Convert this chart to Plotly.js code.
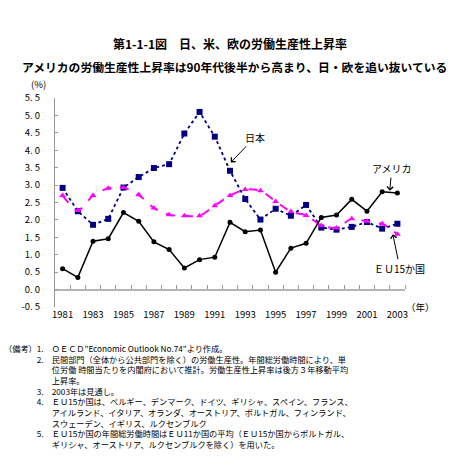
<!DOCTYPE html>
<html>
<head>
<meta charset="utf-8">
<script src="https://cdn.plot.ly/plotly-3.0.1.min.js"></script>
<style>html,body{margin:0;padding:0;background:#fff;overflow:hidden;}#chart{width:459px;height:458px;}</style>
</head>
<body>
<div id="chart"></div>
<script>
// ---- data ----
const years = [1981,1982,1983,1984,1985,1986,1987,1988,1989,1990,1991,1992,1993,1994,1995,1996,1997,1998,1999,2000,2001,2002,2003];
const japan = [2.92,2.25,1.86,2.03,2.93,3.23,3.49,3.60,4.48,5.10,4.39,3.41,2.60,2.01,2.32,2.12,2.43,1.78,1.72,1.80,1.94,1.75,1.89];
const usa   = [0.60,0.35,1.39,1.46,2.21,1.96,1.37,1.15,0.62,0.86,0.93,1.93,1.66,1.71,0.50,1.19,1.33,2.07,2.14,2.59,2.25,2.81,2.77];
const eu15  = [2.70,2.27,2.70,2.91,2.93,2.72,2.34,2.15,2.12,2.12,2.41,2.70,2.87,2.84,2.53,2.24,2.13,1.84,1.77,2.03,1.96,1.89,1.59];
const xTickYears = [1981,1983,1985,1987,1989,1991,1993,1995,1997,1999,2001,2003];
const yTickValues = [-0.5,0,0.5,1,1.5,2,2.5,3,3.5,4,4.5,5,5.5];
const yTickLabels = ['-0. 5','0. 0','0. 5','1. 0','1. 5','2. 0','2. 5','3. 0','3. 5','4. 0','4. 5','5. 0','5. 5'];
const seriesNames = ['日本','アメリカ','ＥＵ15か国'];
const titleText = '第1-1-1図　日、米、欧の労働生産性上昇率';
const subtitleText = 'アメリカの労働生産性上昇率は90年代後半から高まり、日・欧を追い抜いている';
const yUnit = '(%)';
const xUnit = '（年）';
const noteHead = '（備考）';
const noteNumbers = ['1.','2.','','','3.','4.','','','5.',''];
const noteTexts = [
  'ＯＥＣＤ"Economic Outlook No.74"より作成。',
  '民間部門（全体から公共部門を除く）の労働生産性。年間総労働時間により、単',
  '位労働 時間当たりを内閣府において推計。労働生産性上昇率は後方３年移動平均',
  '上昇率。',
  '2003年は見通し。',
  'ＥＵ15か国は、ベルギー、デンマーク、ドイツ、ギリシャ、スペイン、フランス、',
  'アイルランド、イタリア、オランダ、オーストリア、ポルトガル、フィンランド、',
  'スウェーデン、イギリス、ルクセンブルク',
  'ＥＵ15か国の年間総労働時間はＥＵ11か国の平均（ＥＵ15か国からポルトガル、',
  'ギリシャ、オーストリア、ルクセンブルクを除く）を用いた。'
];

// ---- layout helpers ----
const L = 55, R = 405, T = 97.5, B = 307.5;
const PX = x => (x - L) / (R - L);
const PY = y => (B - y) / (B - T);
const jp = 'Noto Sans CJK JP, sans-serif';
const boundaries = years.map(y => y + 0.5);

const traces = [
  {x: years, y: japan, name: seriesNames[0], type: 'scatter', mode: 'lines+markers',
   line: {color: '#000080', width: 1.8, dash: 'dot'},
   marker: {symbol: 'square', size: 6, color: '#000080'}},
  {x: years, y: eu15, name: seriesNames[2], type: 'scatter', mode: 'lines+markers',
   line: {color: '#ff00ff', width: 2, dash: 'dash', shape: 'spline', smoothing: 0.7},
   marker: {symbol: 'triangle-up', size: 6, color: '#ff00ff'}},
  {x: years, y: usa, name: seriesNames[1], type: 'scatter', mode: 'lines+markers', xaxis: 'x2',
   line: {color: '#000000', width: 1.5},
   marker: {symbol: 'circle', size: 5, color: '#000000'}}
];

// notes as one block: numbers aligned with em-based spaces
const indentHead = '\u3000\u3000\u3000\u3000';
const indentNum = '\u2007\u2008\u3000';
const noteLines = noteTexts.map((t, i) => {
  const head = i === 0 ? noteHead : indentHead;
  const num = noteNumbers[i] ? noteNumbers[i] + '\u3000' : indentNum;
  return head + num + t;
});

const txt = (text, x, y, size) => ({text: text, x: PX(x), y: PY(y), xref: 'paper', yref: 'paper',
  xanchor: 'center', yanchor: 'middle', showarrow: false, font: {family: jp, size: size, color: '#000'}});

const annotations = [
  txt('<b>' + titleText + '</b>', 230, 43, 12),
  txt('<b>' + subtitleText + '</b>', 234, 66, 11.8),
  txt(yUnit, 38, 83.5, 9.5),
  txt(xUnit, 420, 307, 9.5),
  {text: seriesNames[0], x: 1992.05, y: 3.65, xref: 'x', yref: 'y', ax: 24, ay: -25, showarrow: true, arrowhead: 4, arrowsize: 1.2, arrowwidth: 1, arrowcolor: '#000', standoff: 0, font: {family: jp, size: 10, color: '#000'}},
  {text: seriesNames[1], x: 2002.5, y: 2.84, xref: 'x', yref: 'y', ax: 2, ay: -22, showarrow: true, arrowhead: 4, arrowsize: 1.2, arrowwidth: 1, arrowcolor: '#000', standoff: 0, font: {family: jp, size: 10, color: '#000'}},
  {text: seriesNames[2], x: 2002.7, y: 1.59, xref: 'x', yref: 'y', ax: 7, ay: 34, showarrow: true, arrowhead: 4, arrowsize: 1.2, arrowwidth: 1, arrowcolor: '#000', standoff: 0, font: {family: jp, size: 10, color: '#000'}},
  {text: noteLines.join('<br>'), x: PX(3), y: PY(342), xref: 'paper', yref: 'paper', xanchor: 'left', yanchor: 'top', align: 'left', showarrow: false, borderpad: 0, font: {family: jp, size: 8.2, color: '#000'}}
];

const layout = {
  width: 459, height: 458,
  margin: {l: L, r: 459 - R, t: T, b: 458 - B, pad: 0, autoexpand: false},
  paper_bgcolor: '#fff', plot_bgcolor: '#fff',
  showlegend: false,
  font: {family: jp, size: 9.5, color: '#000'},
  xaxis: {range: [1980.5, 2003.5], tickvals: xTickYears, ticktext: xTickYears.map(String), ticks: '', showline: false, showgrid: false, zeroline: false, automargin: false,
          tickfont: {family: jp, size: 9.5, color: '#000'}},
  xaxis2: {range: [1980.5, 2003.5], overlaying: 'x', anchor: 'free', position: 0.5 / 6, side: 'top', automargin: false,
           tickvals: boundaries, ticks: 'outside', ticklen: 4, tickcolor: '#999', tickwidth: 1,
           showticklabels: false, showline: true, linecolor: '#b4b4b4', linewidth: 2, showgrid: false, zeroline: false},
  yaxis: {range: [-0.5, 5.5], tickvals: yTickValues, ticktext: yTickLabels, ticks: 'inside', ticklen: 3, tickcolor: '#999', automargin: false,
          showline: true, linecolor: '#999', linewidth: 1, showgrid: false, zeroline: false, ticklabelstandoff: 12,
          tickfont: {family: jp, size: 9.5, color: '#000'}},
  annotations: annotations
};

Plotly.newPlot('chart', traces, layout, {displayModeBar: false, staticPlot: true});
</script>
</body>
</html>
